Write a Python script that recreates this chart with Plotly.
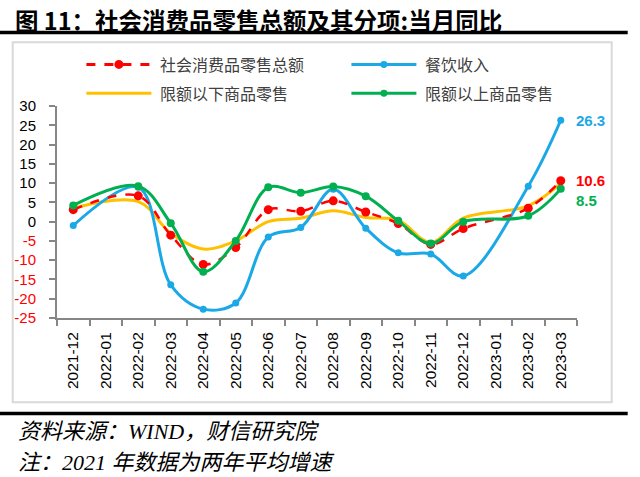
import plotly.graph_objects as go

months = ["2021-12", "2022-01", "2022-02", "2022-03", "2022-04", "2022-05", "2022-06",
          "2022-07", "2022-08", "2022-09", "2022-10", "2022-11", "2022-12", "2023-01",
          "2023-02", "2023-03"]
total = [3.1, None, 6.7, -3.5, -11.1, -6.7, 3.1, 2.7, 5.4, 2.5, -0.5, -5.9, -1.8, None, 3.5, 10.6]
catering = [-1.0, None, 8.9, -16.4, -22.7, -21.1, -4.0, -1.5, 8.4, -1.7, -8.1, -8.4, -14.1, None, 9.2, 26.3]
below_limit = [3.5, None, 5.2, -3.0, -7.1, -5.0, 0.0, 0.9, 2.8, 1.1, 0.4, -5.4, 0.9, None, 4.1, 9.9]
above_limit = [4.2, None, 9.2, -0.4, -13.0, -5.0, 8.9, 7.5, 9.1, 6.6, 0.2, -5.7, 0.0, None, 1.5, 8.5]

yticks = [30, 25, 20, 15, 10, 5, 0, -5, -10, -15, -20, -25]

names = ["社会消费品零售总额", "餐饮收入", "限额以下商品零售", "限额以上商品零售"]
RED, BLUE, YEL, GRN = "#FF0000", "#1BA8E6", "#FFC000", "#00B050"

W, H = 640, 477
L, R, T, B = 57.3, 577.3, 105.7, 318.3


def px2x(px):
    return (px - L) / (R - L)


def px2y(py):
    return (B - py) / (B - T)


fig = go.Figure()
fig.add_trace(go.Scatter(x=months, y=below_limit, mode="lines", name=names[2],
                         line=dict(color=YEL, width=3, shape="spline", smoothing=1),
                         connectgaps=True, showlegend=False))
fig.add_trace(go.Scatter(x=months, y=catering, mode="lines+markers", name=names[1],
                         line=dict(color=BLUE, width=3, shape="spline", smoothing=1),
                         marker=dict(size=7, color=BLUE),
                         connectgaps=True, showlegend=False))
fig.add_trace(go.Scatter(x=months, y=total, mode="lines+markers", name=names[0],
                         line=dict(color=RED, width=2.5, dash="dash", shape="spline", smoothing=1),
                         marker=dict(size=9, color=RED),
                         connectgaps=True, showlegend=False))
fig.add_trace(go.Scatter(x=months, y=above_limit, mode="lines+markers", name=names[3],
                         line=dict(color=GRN, width=3, shape="spline", smoothing=1),
                         marker=dict(size=8, color=GRN),
                         connectgaps=True, showlegend=False))

ticktext = [(f'<span style="color:{RED}">{v}</span>' if v < 0 else str(v)) for v in yticks]

shapes = []
annotations = []

# outer light-gray frame
shapes.append(dict(type="rect", xref="paper", yref="paper",
                   x0=px2x(13), x1=px2x(612), y0=px2y(402.7), y1=px2y(41.7),
                   line=dict(color="#D9D9D9", width=2), fillcolor="rgba(0,0,0,0)", layer="below"))
# black rules
shapes.append(dict(type="line", xref="paper", yref="paper",
                   x0=px2x(0), x1=px2x(628), y0=px2y(32), y1=px2y(32),
                   line=dict(color="#000000", width=3.5)))
shapes.append(dict(type="line", xref="paper", yref="paper",
                   x0=px2x(0), x1=px2x(628), y0=px2y(414), y1=px2y(414),
                   line=dict(color="#000000", width=3.5)))

# manual legend
legend_items = [
    (names[0], RED, "dash", True, 86.7, 64),
    (names[1], BLUE, "solid", True, 351.7, 64),
    (names[2], YEL, "solid", False, 86.7, 93),
    (names[3], GRN, "solid", True, 351.7, 93),
]
for name, col, dash, mk, x0, y0 in legend_items:
    shapes.append(dict(type="line", xref="paper", yref="paper",
                       x0=px2x(x0), x1=px2x(x0 + 65), y0=px2y(y0), y1=px2y(y0),
                       line=dict(color=col, width=3, dash=dash)))
    if mk:
        r = 3.5 if col != RED else 4.5
        cx = x0 + 32.5
        shapes.append(dict(type="circle", xref="paper", yref="paper",
                           x0=px2x(cx - r), x1=px2x(cx + r), y0=px2y(y0 + r), y1=px2y(y0 - r),
                           line=dict(color=col, width=0), fillcolor=col))
    annotations.append(dict(xref="paper", yref="paper", x=px2x(x0 + 72), y=px2y(y0),
                            xanchor="left", yanchor="middle", showarrow=False, text=name,
                            font=dict(family="Noto Sans CJK SC", size=16, color="#404040")))

# end labels
end_labels = [(catering[-1], BLUE, 0), (total[-1], RED, 0), (above_limit[-1], GRN, -12)]
for v, col, ys in end_labels:
    annotations.append(dict(x=months[-1], y=v, xref="x", yref="y", xanchor="left",
                            yanchor="middle", xshift=13, yshift=ys, showarrow=False,
                            text=f"<b>{v}</b>",
                            font=dict(family="Liberation Sans", size=15, color=col)))

# title
annotations.append(dict(xref="paper", yref="paper", x=px2x(13), y=px2y(0),
                        xanchor="left", yanchor="top", showarrow=False,
                        text="<b>图 11：社会消费品零售总额及其分项:当月同比</b>",
                        font=dict(family="Noto Sans CJK SC", size=23.5, color="#000000")))
# footnotes
annotations.append(dict(xref="paper", yref="paper", x=px2x(16), y=px2y(432),
                        xanchor="left", yanchor="middle", showarrow=False,
                        text="<i>资料来源：WIND，财信研究院</i>",
                        font=dict(family="Liberation Serif, Noto Sans CJK SC", size=22, color="#000000")))
annotations.append(dict(xref="paper", yref="paper", x=px2x(16), y=px2y(463),
                        xanchor="left", yanchor="middle", showarrow=False,
                        text="<i>注：2021 年数据为两年平均增速</i>",
                        font=dict(family="Liberation Serif, Noto Sans CJK SC", size=22, color="#000000")))

fig.update_layout(
    width=W, height=H,
    margin=dict(l=L, r=W - R, t=T, b=H - B, pad=0),
    paper_bgcolor="#FFFFFF", plot_bgcolor="#FFFFFF",
    shapes=shapes, annotations=annotations,
    showlegend=False,
)
fig.update_xaxes(type="category", categoryorder="array", categoryarray=months,
                 range=[-0.5, len(months) - 0.5],
                 showgrid=False, zeroline=False, showline=True,
                 linecolor="#868686", linewidth=2,
                 ticks="outside", ticklen=6, tickcolor="#868686", tickwidth=2,
                 tickson="boundaries", tickangle=-90, ticklabelstandoff=6,
                 tickfont=dict(family="Liberation Sans", size=15.5, color="#000000"))
fig.update_yaxes(range=[-25, 30], tickvals=yticks, ticktext=ticktext,
                 showgrid=False, zeroline=False, showline=True,
                 linecolor="#868686", linewidth=2,
                 ticks="outside", ticklen=6, tickcolor="#868686", tickwidth=2,
                 ticklabelstandoff=10,
                 tickfont=dict(family="Liberation Sans", size=15, color="#000000"))

fig.write_html("out.html", config={"displayModeBar": False},
               post_script="document.body.style.margin='0';")
